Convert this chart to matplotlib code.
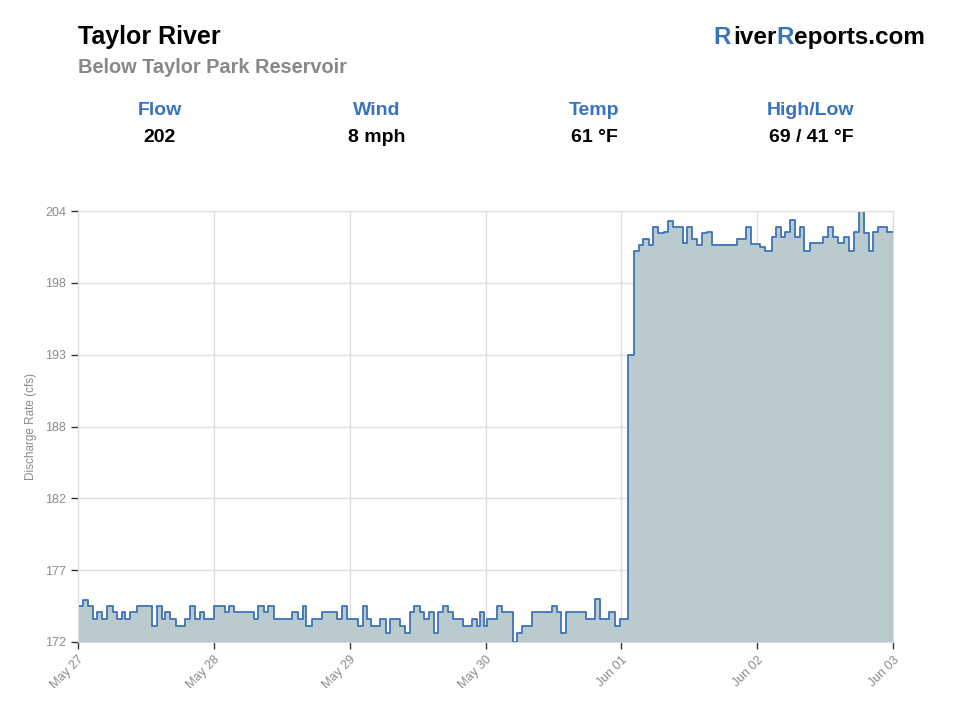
import matplotlib
matplotlib.use("Agg")
import matplotlib.pyplot as plt
import matplotlib.dates as mdates
import numpy as np
import pandas as pd

plt.rcParams['font.family'] = ['Liberation Sans', 'DejaVu Sans']

# flow readings: hours since start, value (cfs) at each change
start = pd.Timestamp('2023-05-27 10:00')
hours = [0, 1.1, 2.1, 3.0, 3.85, 4.9, 5.9, 7.15, 7.97, 9.0, 9.7, 10.7, 12.1, 15.2, 16.35,
         17.25, 17.9, 18.97, 20.2, 22.05, 23.1, 24.2, 25.15, 26.0, 28.1, 30.2, 31.2, 32.2,
         36.3, 37.2, 38.4, 39.1, 40.3, 44.05, 45.4, 46.3, 47.1, 48.2, 50.2, 53.3, 54.4,
         55.4, 57.8, 58.8, 59.6, 60.5, 62.3, 63.5, 64.3, 66.4, 67.4, 68.4, 69.3, 70.4,
         71.3, 72.4, 73.4, 74.3, 75.3, 76.3, 77.4, 79.4, 81.2, 82.2, 82.9, 83.6, 84.4,
         86.4, 87.3, 89.6, 90.4, 91.5, 93.5, 97.7, 98.7, 99.6, 100.6, 104.7, 106.6, 107.5,
         109.5, 110.6, 111.7, 113.4, 114.6, 115.7, 116.5, 117.6, 118.6, 119.6, 120.7,
         121.7, 122.7, 124.7, 125.6, 126.5, 127.7, 128.6, 129.6, 130.6, 135.8, 137.8,
         138.7, 140.6, 141.6, 143.0, 143.9, 144.9, 145.7, 146.8, 147.8, 148.8, 149.7,
         150.8, 153.6, 154.7, 155.7, 156.7, 157.9, 158.9, 160.0, 160.9, 162.0, 163.1,
         163.9, 165.0, 166.7, 168.0]
flow = [174.7, 175.1, 174.7, 173.7, 174.2, 173.7, 174.7, 174.2, 173.7, 174.2, 173.7, 174.2,
        174.7, 173.2, 174.7, 173.7, 174.2, 173.7, 173.2, 173.7, 174.7, 173.7, 174.2, 173.7,
        174.7, 174.2, 174.7, 174.2, 173.7, 174.7, 174.2, 174.7, 173.7, 174.2, 173.7, 174.7,
        173.2, 173.7, 174.2, 173.7, 174.7, 173.7, 173.2, 174.7, 173.7, 173.2, 173.7, 172.7,
        173.7, 173.2, 172.7, 174.2, 174.7, 174.2, 173.7, 174.2, 172.7, 174.2, 174.7, 174.2,
        173.7, 173.2, 173.7, 173.2, 174.2, 173.2, 173.7, 174.7, 174.2, 172.0, 172.7, 173.2,
        174.2, 174.7, 174.2, 172.7, 174.2, 173.7, 175.2, 173.7, 174.2, 173.2, 173.7, 193.3,
        201.0, 201.5, 201.95, 201.5, 202.8, 202.35, 202.45, 203.25, 202.8, 201.6, 202.8,
        201.95, 201.5, 202.35, 202.45, 201.5, 201.95, 202.8, 201.55, 201.35, 201.0, 202.05,
        202.8, 202.1, 202.45, 203.3, 202.1, 202.8, 201.0, 201.6, 202.05, 202.8, 202.05,
        201.6, 202.05, 201.0, 202.45, 204.0, 202.35, 201.0, 202.45, 202.8, 202.45, 202.45]

tick_hours = [0, 28, 56, 84, 112, 140, 168]
y_ticks = np.linspace(172, 204, 7)

stat_names = ['Flow', 'Wind', 'Temp', 'High/Low']
stat_values = ['202', '8 mph', '61 °F', '69 / 41 °F']

blue = '#3a73bd'
line_col = '#3d72b8'
fill_col = '#b9cbcf'

times = start + pd.to_timedelta(hours, unit='h')

fig = plt.figure(figsize=(9.6, 7.2), dpi=100)
ax = fig.add_axes([78 / 960, 78 / 720, 815 / 960, 431 / 720])

ax.fill_between(times, flow, 172, step='post', color=fill_col, linewidth=0)
ax.step(times, flow, where='post', color=line_col, linewidth=1.3)

ax.set_xlim(times[0], times[-1])
ax.set_ylim(172, 204)

ax.set_xticks([start + pd.Timedelta(hours=h) for h in tick_hours])
ax.xaxis.set_major_formatter(mdates.DateFormatter('%b %d'))
ax.set_yticks(y_ticks)
ax.set_yticklabels([str(int(v + 1e-6)) for v in y_ticks])
plt.setp(ax.get_xticklabels(), rotation=45, ha='right', rotation_mode='anchor')

ax.tick_params(axis='both', colors='#333333', labelcolor='#8a8a8a', labelsize=9,
               length=5, width=1)
ax.grid(True, color='#e0e0e0', linewidth=1)
ax.set_axisbelow(True)
for s in ax.spines.values():
    s.set_color('#dcdcdc')
ax.set_ylabel('Discharge Rate (cfs)', color='#8a8a8a', fontsize=8.5, labelpad=6)

# header
fig.text(78 / 960, 1 - 44 / 720, 'Taylor River', fontsize=18, fontweight='bold',
         color='black', va='baseline')
fig.text(78 / 960, 1 - 73 / 720, 'Below Taylor Park Reservoir', fontsize=14.4,
         fontweight='bold', color='#888888', va='baseline')

centers = [160, 377, 594, 811]
for cx, name, val in zip(centers, stat_names, stat_values):
    fig.text(cx / 960, 1 - 115 / 720, name, fontsize=14, fontweight='bold', color=blue,
             ha='center', va='baseline')
    fig.text(cx / 960, 1 - 142 / 720, val, fontsize=14, fontweight='bold', color='black',
             ha='center', va='baseline')

# site name with blue R's, laid out piece by piece
parts = [('R', blue), ('iver', 'black'), ('R', blue), ('eports.com', 'black')]
renderer = fig.canvas.get_renderer()
texts = []
for s, c in parts:
    t = fig.text(0, 1 - 44 / 720, s, fontsize=17.5, fontweight='bold', color=c,
                 va='baseline')
    texts.append(t)
widths = [t.get_window_extent(renderer).width for t in texts]
x = 925 - sum(widths) - 3
for i, t in enumerate(texts):
    t.set_x(x / 960)
    x += widths[i] + (3 if i == 0 else 0)

fig.savefig('out.png', dpi=100)
